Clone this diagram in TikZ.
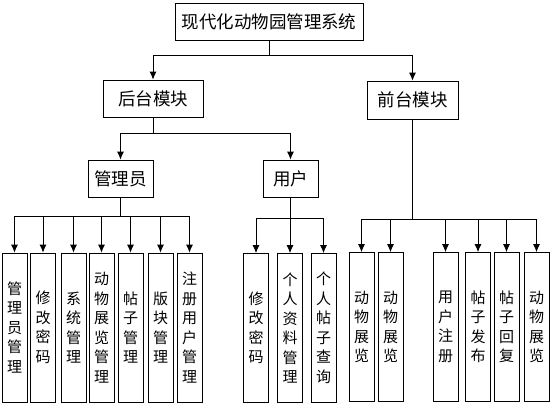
\documentclass[tikz,border=0pt]{standalone}
\usepackage{fontspec}
\setmainfont{Noto Sans CJK SC}
\usetikzlibrary{arrows.meta}

\tikzset{
  box/.style={draw, line width=0.8pt, rectangle, inner sep=0pt, align=center},
  headbox/.style={box, font=\fontsize{17.5}{20}\selectfont, minimum height=37pt},
  leafbox/.style={box, font=\fontsize{15}{19.5}\selectfont, minimum width=25pt, minimum height=149pt},
  link/.style={line width=0.8pt, -{Latex[length=8pt,width=7pt]}},
}

\begin{document}
\begin{tikzpicture}[x=1pt, y=-1pt]

  \useasboundingbox (0,0) rectangle (555,410);

  %% top levels
  \node[headbox, minimum width=188pt] (root)  at (269,21.5) {现代化动物园管理系统};
  \node[headbox, minimum width=100pt] (back)  at (153,98.5) {后台模块};
  \node[headbox, minimum width=91pt, minimum height=38pt] (front) at (412.5,100) {前台模块};
  \node[headbox, minimum width=65pt]  (admin) at (120.5,178.5) {管理员};
  \node[headbox, minimum width=55pt]  (user)  at (290.5,178.5) {用户};

  %% leaves of admin
  \node[leafbox] (a1) at (14.5,327.5)  {管\\理\\员\\管\\理};
  \node[leafbox] (a2) at (43,327.5)    {修\\改\\密\\码};
  \node[leafbox] (a3) at (73.5,327.5)  {系\\统\\管\\理};
  \node[leafbox] (a4) at (101.5,327.5) {动\\物\\展\\览\\管\\理};
  \node[leafbox] (a5) at (130.5,327.5) {帖\\子\\管\\理};
  \node[leafbox] (a6) at (160.5,327.5) {版\\块\\管\\理};
  \node[leafbox] (a7) at (189.5,327.5) {注\\册\\用\\户\\管\\理};

  %% leaves of user
  \node[leafbox] (u1) at (256,328)   {修\\改\\密\\码};
  \node[leafbox] (u2) at (290,328)   {个\\人\\资\\料\\管\\理};
  \node[leafbox] (u3) at (323.5,328) {个\\人\\帖\\子\\查\\询};

  %% leaves of front
  \node[leafbox] (f1) at (361.5,327) {动\\物\\展\\览};
  \node[leafbox] (f2) at (390.5,327) {动\\物\\展\\览};
  \node[leafbox] (f3) at (445.5,327) {用\\户\\注\\册};
  \node[leafbox] (f4) at (478,327)   {帖\\子\\发\\布};
  \node[leafbox] (f5) at (506.5,327) {帖\\子\\回\\复};
  \node[leafbox] (f6) at (536.5,327) {动\\物\\展\\览};

  %% buses
  \coordinate (b0) at (269,55);
  \coordinate (b1) at (153,133);
  \coordinate (b2) at (120.5,216);
  \coordinate (b3) at (290.5,218);
  \coordinate (b4) at (412.5,219);

  \draw[line width=0.8pt] (root.south) -- (b0);
  \draw[link] (b0) -| (back.north);
  \draw[link] (b0) -| (front.north);

  \draw[line width=0.8pt] (back.south) -- (b1);
  \draw[link] (b1) -| (admin.north);
  \draw[link] (b1) -| (user.north);

  \draw[line width=0.8pt] (admin.south) -- (b2);
  \foreach \n in {a1,a2,a3,a4,a5,a6,a7}
    \draw[link] (b2) -| (\n.north);

  \draw[line width=0.8pt] (user.south) -- (b3);
  \foreach \n in {u1,u2,u3}
    \draw[link] (b3) -| (\n.north);

  \draw[line width=0.8pt] (front.south) -- (b4);
  \foreach \n in {f1,f2,f3,f4,f5,f6}
    \draw[link] (b4) -| (\n.north);

\end{tikzpicture}
\end{document}
